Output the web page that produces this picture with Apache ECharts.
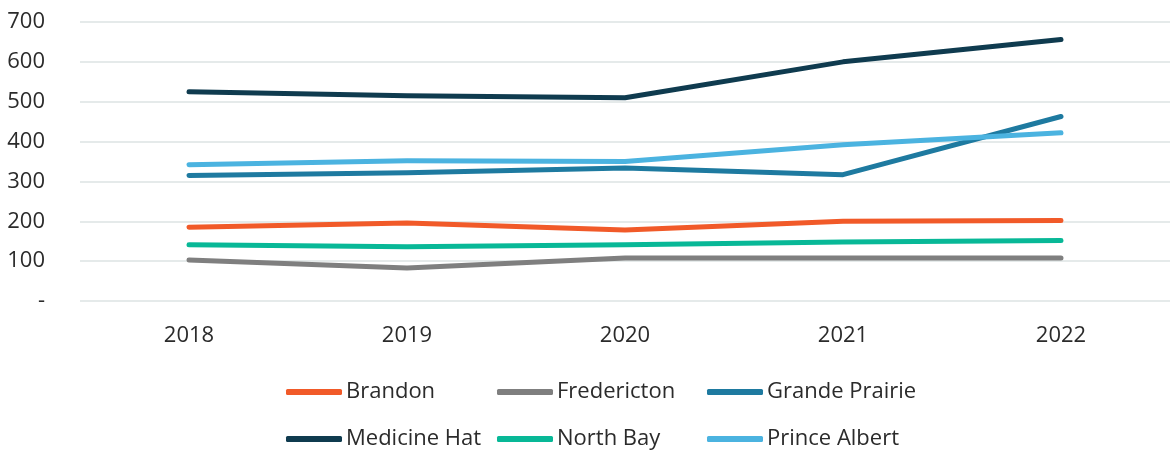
<!DOCTYPE html>
<html>
<head>
<meta charset="utf-8">
<script src="https://cdn.jsdelivr.net/npm/echarts@6/dist/echarts.min.js"></script>
<style>
  html, body { margin: 0; padding: 0; background: #fff; }
  #chart { width: 1170px; height: 451px; }
</style>
</head>
<body>
<div id="chart"></div>
<script>
var years = ['2018', '2019', '2020', '2021', '2022'];

var brandon = [185, 196, 178, 200, 202];
var fredericton = [103, 83, 108, 108, 108];
var grandePrairie = [315, 322, 334, 317, 463];
var medicineHat = [525, 515, 510, 600, 656];
var northBay = [141, 136, 141, 148, 152];
var princeAlbert = [342, 352, 350, 392, 422];

var colors = {
  'Brandon': '#f15a29',
  'Fredericton': '#7f7f7f',
  'Grande Prairie': '#1e7aa0',
  'Medicine Hat': '#0f3b4f',
  'North Bay': '#08b897',
  'Prince Albert': '#4bb3e0'
};

function line(name, data) {
  return {
    name: name,
    type: 'line',
    data: data,
    symbol: 'none',
    color: colors[name],
    lineStyle: { width: 5, color: colors[name], cap: 'round', join: 'round' }
  };
}

// one legend per item, so the grid of 3 columns x 2 rows lines up like the original
function legendItem(left, top, name) {
  return {
    left: left,
    top: top,
    padding: 0,
    itemWidth: 56,
    itemHeight: 6,
    icon: 'roundRect',
    textStyle: { fontSize: 22, lineHeight: 24, color: '#2b2b2b', fontFamily: 'Open Sans', padding: [0, 0, 0, -1] },
    data: [name]
  };
}

var chart = echarts.init(document.getElementById('chart'));
chart.setOption({
  animation: false,
  grid: { left: 80, top: 22, width: 1100, height: 279 },
  legend: [
    legendItem(286, 380, 'Brandon'),
    legendItem(497, 380, 'Fredericton'),
    legendItem(707, 380, 'Grande Prairie'),
    legendItem(286, 427, 'Medicine Hat'),
    legendItem(497, 427, 'North Bay'),
    legendItem(707, 427, 'Prince Albert')
  ],
  xAxis: {
    type: 'category',
    data: years,
    boundaryGap: true,
    axisLine: { show: false },
    axisTick: { show: false },
    axisLabel: { fontSize: 22, color: '#2b2b2b', fontFamily: 'Open Sans', margin: 24 }
  },
  yAxis: {
    type: 'value',
    min: 0,
    max: 700,
    interval: 100,
    axisLine: { show: false },
    axisTick: { show: false },
    splitLine: { lineStyle: { color: '#dde3e3', width: 1.5 } },
    axisLabel: {
      fontSize: 22, color: '#2b2b2b', fontFamily: 'Open Sans', margin: 35,
      formatter: function (v) { return v === 0 ? '-' : v; }
    }
  },
  series: [
    line('Brandon', brandon),
    line('Fredericton', fredericton),
    line('Grande Prairie', grandePrairie),
    line('Medicine Hat', medicineHat),
    line('North Bay', northBay),
    line('Prince Albert', princeAlbert)
  ]
});
</script>
</body>
</html>
